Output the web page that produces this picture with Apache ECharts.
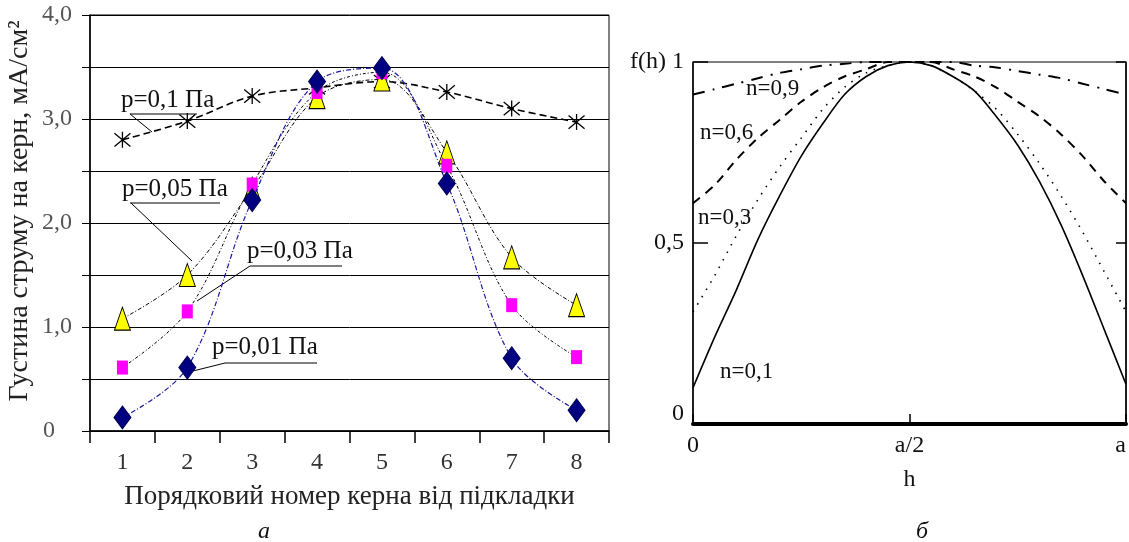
<!DOCTYPE html>
<html><head><meta charset="utf-8">
<script src="https://cdn.jsdelivr.net/npm/echarts@6/dist/echarts.min.js"></script>
<style>html,body{margin:0;padding:0;background:#fff}#c{width:1129px;height:542px}</style>
</head><body><div id="c"></div><script>
// ---------- data: chart (а) ----------
const kernCategories = ['1', '2', '3', '4', '5', '6', '7', '8'];
const p01  = [2.80, 2.98, 3.22, 3.30, 3.36, 3.26, 3.10, 2.97];   // p=0,1 Па
const p005 = [1.08, 1.50, 2.33, 3.21, 3.38, 2.68, 1.67, 1.21];   // p=0,05 Па
const p003 = [0.61, 1.15, 2.37, 3.26, 3.45, 2.55, 1.21, 0.71];   // p=0,03 Па
const p001 = [0.13, 0.61, 2.22, 3.36, 3.49, 2.38, 0.70, 0.20];   // p=0,01 Па
const leftYTickLabels = { 0: '0', 1: '1,0', 2: '2,0', 3: '3,0', 4: '4,0' };

// ---------- data: chart (б) ----------
const hPos = [0, 0.05, 0.10, 0.15, 0.20, 0.25, 0.30, 0.35, 0.40, 0.45, 0.50,
              0.55, 0.60, 0.65, 0.70, 0.75, 0.80, 0.85, 0.90, 0.95, 1.00];
const n01 = [0.10, 0.24, 0.37, 0.51, 0.63, 0.74, 0.83, 0.91, 0.96, 0.99, 1.00,
             0.99, 0.96, 0.92, 0.85, 0.77, 0.67, 0.55, 0.41, 0.26, 0.11];
const n03 = [0.31, 0.41, 0.52, 0.62, 0.71, 0.79, 0.87, 0.93, 0.97, 0.99, 1.00,
             0.99, 0.96, 0.92, 0.87, 0.80, 0.72, 0.63, 0.53, 0.42, 0.31];
const n06 = [0.61, 0.66, 0.73, 0.79, 0.84, 0.89, 0.93, 0.96, 0.98, 1.00, 1.00,
             1.00, 0.98, 0.96, 0.93, 0.89, 0.85, 0.80, 0.74, 0.67, 0.61];
const n09 = [0.91, 0.925, 0.94, 0.955, 0.97, 0.98, 0.99, 0.995, 1.00, 1.00, 1.00,
             1.00, 1.00, 0.99, 0.985, 0.975, 0.965, 0.955, 0.94, 0.925, 0.91];
const hTickLabels = { 0: '0', 0.5: 'a/2', 1: 'a' };
const fTickLabels = { 0: '{z|0}', 0.5: '0,5', 1: 'f(h) 1' };

const FONT = '"Liberation Serif", "Times New Roman", serif';
const pair = (xs, ys) => xs.map((x, i) => [x, ys[i]]);
const starPath = 'path://M0,0L20,20M20,0L0,20M10,-2L10,22';

const chart = echarts.init(document.getElementById('c'), null, { renderer: 'canvas' });

function txt(text, x, y, size, extra) {
  return {
    type: 'text', x: x, y: y, silent: true,
    style: Object.assign({ text: text, font: size + 'px ' + FONT, fill: '#111', align: 'left', verticalAlign: 'middle' }, extra || {})
  };
}
function ln(x1, y1, x2, y2) {
  return { type: 'line', silent: true, shape: { x1, y1, x2, y2 }, style: { stroke: '#000', lineWidth: 1 } };
}

const annotations = [
  txt('p=0,1 Па', 121, 100, 25), ln(130, 114, 197, 114), ln(130, 114, 152, 132), ln(195, 114, 187, 123),
  txt('p=0,05 Па', 122, 189, 25), ln(130, 203, 220, 203), ln(131, 203, 192, 261),
  txt('p=0,03 Па', 247, 251, 25), ln(250, 266, 342, 266), ln(250, 266, 197, 301),
  txt('p=0,01 Па', 212, 347, 25), ln(225, 363, 317, 363), ln(225, 363, 193, 371),
  txt('n=0,9', 746, 89, 23),
  txt('n=0,6', 700, 133, 23),
  txt('n=0,3', 698, 218, 23),
  txt('n=0,1', 720, 372, 23),
  txt('а', 264, 532, 24, { font: 'italic 24px ' + FONT, align: 'center' }),
  txt('б', 922, 532, 24, { font: 'italic 24px ' + FONT, align: 'center' })
];

const option = {
  animation: false,
  backgroundColor: '#fff',
  grid: [
    { left: 90, top: 15, width: 519, height: 416, show: true, borderColor: '#000', borderWidth: 1, containLabel: false },
    { left: 693, top: 62, width: 434, height: 362, show: true, borderColor: '#000', borderWidth: 1, containLabel: false }
  ],
  xAxis: [
    {
      type: 'category', gridIndex: 0, data: kernCategories, boundaryGap: true,
      axisLine: { lineStyle: { color: '#000', width: 1.5 } },
      axisTick: { show: true, interval: 0, length: 12, lineStyle: { color: '#000', width: 1.5 } },
      axisLabel: { fontSize: 24, fontFamily: FONT, color: '#333', margin: 20 },
      splitLine: { show: false },
      name: 'Порядковий номер керна від підкладки', nameLocation: 'middle', nameGap: 52,
      nameTextStyle: { fontSize: 27, fontFamily: FONT, color: '#222' }
    },
    {
      type: 'value', gridIndex: 1, min: 0, max: 1, interval: 0.5,
      axisLine: { show: true, lineStyle: { color: '#000', width: 4 } },
      axisTick: { show: true, inside: true, length: 10, lineStyle: { color: '#000', width: 1.5 } },
      axisLabel: { fontSize: 24, fontFamily: FONT, color: '#111', margin: 10, alignMaxLabel: 'right',
                   formatter: v => hTickLabels[v] ?? '' },
      splitLine: { show: false },
      name: 'h', nameLocation: 'middle', nameGap: 44,
      nameTextStyle: { fontSize: 24, fontFamily: FONT, color: '#111' }
    }
  ],
  yAxis: [
    {
      type: 'value', gridIndex: 0, min: 0, max: 4, interval: 0.5,
      axisLine: { show: true, lineStyle: { color: '#000', width: 1.5 } },
      axisTick: { show: true, length: 8, lineStyle: { color: '#000', width: 1 } },
      axisLabel: { fontSize: 24, fontFamily: FONT, color: '#555', margin: 18,
                   formatter: v => (v === 0 ? '{z|0}' : (leftYTickLabels[v] ?? '')),
                   rich: { z: { fontSize: 24, fontFamily: FONT, color: '#555', padding: [0, 17, 0, 0] } } },
      splitLine: { show: true, lineStyle: { color: '#000', width: 1 } },
      name: 'Густина струму на керн, мА/см²', nameLocation: 'middle', nameGap: 56, nameRotate: 90,
      nameTextStyle: { fontSize: 28, fontFamily: FONT, color: '#222', padding: [0, 0, 0, 24] }
    },
    {
      type: 'value', gridIndex: 1, min: 0, max: 1, interval: 0.5,
      axisLine: { show: true, lineStyle: { color: '#000', width: 1.5 } },
      axisTick: { show: true, inside: true, length: 15, lineStyle: { color: '#000', width: 1.5 } },
      axisLabel: { fontSize: 24, fontFamily: FONT, color: '#111', margin: 9,
                   formatter: v => fTickLabels[v] ?? '',
                   rich: { z: { fontSize: 24, fontFamily: FONT, color: '#111', padding: [0, 0, 20, 0] } } },
      splitLine: { show: false }
    },
    {
      type: 'value', gridIndex: 1, min: 0, max: 1, interval: 0.5, position: 'right',
      axisLine: { show: true, lineStyle: { color: '#000', width: 1.5 } },
      axisTick: { show: true, inside: true, length: 10, lineStyle: { color: '#000', width: 1.5 } },
      axisLabel: { show: false }, splitLine: { show: false }
    }
  ],
  series: [
    {
      name: 'p=0,1 Па', type: 'line', xAxisIndex: 0, yAxisIndex: 0, data: p01, smooth: 0.35,
      symbol: starPath, symbolSize: 16,
      itemStyle: { color: 'rgba(0,0,0,0)', borderColor: '#000', borderWidth: 1.3 },
      lineStyle: { color: '#000', width: 1.6, type: [7, 4] }, z: 2
    },
    {
      name: 'p=0,05 Па', type: 'line', xAxisIndex: 0, yAxisIndex: 0, data: p005, smooth: 0.35,
      symbol: 'triangle', symbolSize: [16, 23],
      itemStyle: { color: '#ffff00', borderColor: '#000', borderWidth: 1 },
      lineStyle: { color: '#000', width: 1, type: [4, 2, 1, 2] }, z: 3
    },
    {
      name: 'p=0,03 Па', type: 'line', xAxisIndex: 0, yAxisIndex: 0, data: p003, smooth: 0.35,
      symbol: 'rect', symbolSize: [11, 14],
      itemStyle: { color: '#ff00ff', borderWidth: 0 },
      lineStyle: { color: '#000', width: 1, type: [3, 2, 1, 2] }, z: 4
    },
    {
      name: 'p=0,01 Па', type: 'line', xAxisIndex: 0, yAxisIndex: 0, data: p001, smooth: 0.35,
      symbol: 'diamond', symbolSize: [17, 23],
      itemStyle: { color: '#000080', borderColor: '#000050', borderWidth: 1 },
      lineStyle: { color: '#1a1aa0', width: 1.2, type: [5, 2, 1, 2] }, z: 5
    },
    {
      name: 'n=0,1', type: 'line', xAxisIndex: 1, yAxisIndex: 1, data: pair(hPos, n01), smooth: 0.3,
      showSymbol: false, lineStyle: { color: '#000', width: 1.6, type: 'solid' }
    },
    {
      name: 'n=0,3', type: 'line', xAxisIndex: 1, yAxisIndex: 1, data: pair(hPos, n03), smooth: 0.3,
      showSymbol: false, lineStyle: { color: '#000', width: 1.6, type: [1.5, 7] }
    },
    {
      name: 'n=0,6', type: 'line', xAxisIndex: 1, yAxisIndex: 1, data: pair(hPos, n06), smooth: 0.3,
      showSymbol: false, lineStyle: { color: '#000', width: 2, type: [9, 7] }
    },
    {
      name: 'n=0,9', type: 'line', xAxisIndex: 1, yAxisIndex: 1, data: pair(hPos, n09), smooth: 0.3,
      showSymbol: false, lineStyle: { color: '#000', width: 2, type: [12, 8, 2, 8] }
    }
  ],
  graphic: { elements: annotations }
};
chart.setOption(option);
</script></body></html>
